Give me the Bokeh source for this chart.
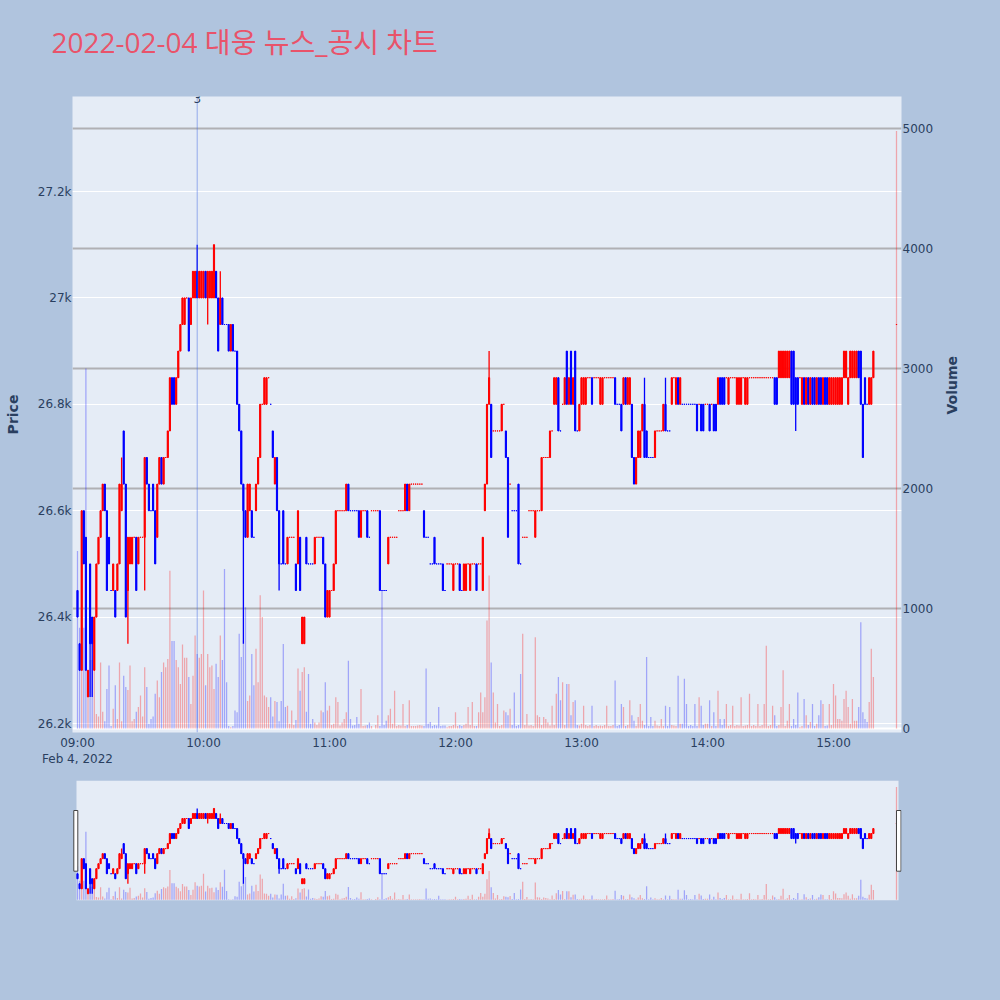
import math
import pandas as pd
from bokeh.plotting import figure
from bokeh.models import (Range1d, LinearAxis, FixedTicker, DatetimeTickFormatter, Grid,
                          ColumnDataSource, Label, Span, BoxAnnotation)
from bokeh.layouts import column
from bokeh.embed import file_html
from bokeh.resources import INLINE

# ---------------- data ----------------
title_text = "2022-02-04 대웅 뉴스_공시 차트"
trade_day = "2022-02-04"
session_start = "09:00"
session_minutes = 380          # 09:00 .. 15:19 continuous trading
closing_time = "15:30"         # closing auction print

opens = [
    26450, 26350, 26300, 26600, 26550, 26250, 26500, 26400, 26300, 26400,
    26500, 26550, 26600, 26650, 26600, 26550, 26450, 26450, 26450, 26450,
    26500, 26600, 26750, 26650, 26450, 26500, 26500, 26550, 26550, 26500,
    26550, 26550, 26550, 26700, 26650, 26600, 26650, 26600, 26550, 26650,
    26700, 26650, 26700, 26700, 26750, 26850, 26850, 26800, 26850, 26900,
    26950, 26950, 27000, 27000, 26950, 27000, 27000, 27050, 27000, 27000,
    27000, 27050, 27000, 27000, 27000, 27000, 27050, 27000, 26950, 27000,
    26950, 26950, 26950, 26900, 26950, 26900, 26900, 26800, 26750, 26650,
    26600, 26550, 26600, 26600, 26550, 26600, 26650, 26700, 26800, 26800,
    26800, 26850, 26800, 26750, 26650, 26700, 26600, 26500, 26600, 26500,
    26500, 26550, 26550, 26550, 26500, 26500, 26550, 26350, 26350, 26550,
    26500, 26500, 26500, 26500, 26550, 26550, 26550, 26550, 26500, 26400,
    26400, 26450, 26450, 26500, 26600, 26600, 26600, 26600, 26600, 26650,
    26600, 26600, 26600, 26600, 26600, 26550, 26600, 26600, 26600, 26550,
    26600, 26600, 26600, 26600, 26600, 26450, 26450, 26450, 26500, 26550,
    26550, 26550, 26550, 26600, 26600, 26600, 26600, 26650, 26600, 26650,
    26650, 26650, 26650, 26650, 26650, 26600, 26550, 26550, 26500, 26500,
    26550, 26500, 26500, 26500, 26500, 26450, 26500, 26500, 26500, 26450,
    26500, 26500, 26500, 26450, 26450, 26450, 26500, 26450, 26500, 26500,
    26500, 26500, 26500, 26450, 26600, 26650, 26800, 26800, 26750, 26750,
    26750, 26750, 26750, 26800, 26750, 26700, 26650, 26600, 26600, 26600,
    26650, 26500, 26550, 26550, 26550, 26600, 26600, 26600, 26550, 26600,
    26600, 26600, 26700, 26700, 26700, 26700, 26750, 26800, 26800, 26850,
    26750, 26800, 26800, 26900, 26800, 26900, 26800, 26900, 26750, 26750,
    26800, 26800, 26800, 26850, 26850, 26850, 26850, 26850, 26850, 26800,
    26800, 26850, 26850, 26850, 26850, 26850, 26850, 26800, 26800, 26800,
    26800, 26850, 26800, 26800, 26800, 26700, 26650, 26700, 26700, 26750,
    26800, 26750, 26700, 26700, 26700, 26700, 26750, 26750, 26750, 26750,
    26800, 26750, 26750, 26800, 26850, 26800, 26850, 26800, 26800, 26800,
    26800, 26800, 26800, 26800, 26800, 26800, 26800, 26800, 26800, 26800,
    26800, 26800, 26800, 26800, 26800, 26800, 26850, 26850, 26850, 26850,
    26800, 26850, 26850, 26850, 26800, 26800, 26800, 26850, 26800, 26800,
    26850, 26850, 26850, 26850, 26850, 26850, 26850, 26850, 26850, 26850,
    26850, 26850, 26850, 26850, 26850, 26850, 26850, 26850, 26850, 26850,
    26900, 26900, 26850, 26850, 26850, 26800, 26850, 26800, 26850, 26800,
    26850, 26850, 26800, 26850, 26850, 26800, 26850, 26850, 26800, 26800,
    26800, 26800, 26800, 26800, 26800, 26850, 26850, 26800, 26850, 26850,
    26850, 26850, 26900, 26900, 26800, 26850, 26800, 26800, 26800, 26850,
    26950,
]

closes = [
    26400, 26300, 26600, 26500, 26300, 26300, 26350, 26350, 26400, 26500,
    26550, 26600, 26650, 26600, 26450, 26500, 26450, 26500, 26400, 26500,
    26650, 26650, 26650, 26400, 26550, 26550, 26550, 26550, 26450, 26550,
    26550, 26550, 26700, 26650, 26600, 26600, 26600, 26500, 26650, 26700,
    26650, 26700, 26700, 26750, 26850, 26800, 26800, 26850, 26900, 26950,
    27000, 27000, 27000, 26900, 27000, 27050, 27050, 27000, 27050, 27050,
    27050, 27000, 27050, 27050, 27050, 27100, 27000, 26900, 27000, 26950,
    26950, 26950, 26900, 26950, 26900, 26900, 26800, 26750, 26650, 26600,
    26550, 26650, 26650, 26550, 26550, 26650, 26700, 26800, 26800, 26850,
    26850, 26850, 26800, 26700, 26700, 26600, 26500, 26500, 26500, 26500,
    26550, 26550, 26550, 26550, 26450, 26600, 26450, 26400, 26400, 26500,
    26500, 26500, 26500, 26550, 26550, 26550, 26550, 26500, 26400, 26450,
    26450, 26450, 26500, 26600, 26600, 26600, 26600, 26600, 26650, 26600,
    26600, 26600, 26600, 26600, 26550, 26600, 26600, 26600, 26550, 26550,
    26600, 26600, 26600, 26600, 26450, 26450, 26450, 26450, 26550, 26550,
    26550, 26550, 26550, 26600, 26600, 26600, 26650, 26600, 26650, 26650,
    26650, 26650, 26650, 26650, 26650, 26550, 26550, 26550, 26500, 26500,
    26500, 26500, 26500, 26500, 26450, 26450, 26500, 26500, 26500, 26500,
    26500, 26500, 26450, 26450, 26500, 26500, 26500, 26500, 26500, 26500,
    26450, 26500, 26500, 26550, 26650, 26800, 26850, 26700, 26750, 26750,
    26750, 26750, 26800, 26800, 26700, 26550, 26650, 26600, 26600, 26600,
    26500, 26500, 26550, 26550, 26550, 26600, 26600, 26600, 26600, 26600,
    26600, 26700, 26700, 26700, 26700, 26750, 26750, 26850, 26850, 26750,
    26750, 26800, 26850, 26800, 26850, 26800, 26850, 26750, 26750, 26800,
    26850, 26850, 26850, 26850, 26850, 26800, 26850, 26850, 26850, 26850,
    26850, 26850, 26850, 26850, 26850, 26850, 26800, 26800, 26800, 26750,
    26850, 26800, 26850, 26850, 26700, 26650, 26700, 26750, 26750, 26800,
    26700, 26700, 26700, 26700, 26700, 26750, 26750, 26750, 26750, 26800,
    26750, 26750, 26750, 26850, 26850, 26850, 26800, 26850, 26800, 26800,
    26800, 26800, 26800, 26800, 26800, 26750, 26800, 26750, 26750, 26800,
    26800, 26750, 26800, 26750, 26750, 26850, 26800, 26800, 26800, 26850,
    26850, 26850, 26850, 26850, 26850, 26850, 26850, 26850, 26850, 26850,
    26850, 26850, 26850, 26850, 26850, 26850, 26850, 26850, 26850, 26850,
    26850, 26850, 26800, 26800, 26900, 26900, 26900, 26900, 26900, 26900,
    26800, 26800, 26800, 26800, 26850, 26850, 26800, 26850, 26800, 26850,
    26800, 26800, 26850, 26800, 26800, 26850, 26800, 26800, 26850, 26850,
    26850, 26850, 26850, 26850, 26850, 26900, 26900, 26850, 26900, 26900,
    26900, 26900, 26850, 26800, 26700, 26800, 26800, 26850, 26850, 26900,
    26950,
]

# extra wick extremes (minute index -> price)
high_wicks = {21: 26700, 57: 27100, 68: 27050, 196: 26900, 270: 26850, 280: 26850}
low_wicks = {6: 26250, 7: 26250, 24: 26350, 32: 26450, 62: 26950,
             79: 26350, 96: 26450, 342: 26750}

volumes = [
    1480, 840, 680, 840, 3000, 340, 570, 570, 500, 120,
    100, 550, 140, 60, 330, 525, 20, 165, 360, 80,
    550, 60, 440, 345, 320, 525, 60, 80, 140, 180,
    275, 100, 510, 345, 40, 80, 100, 290, 400, 260,
    470, 550, 510, 580, 1315, 730, 730, 570, 510, 370,
    700, 590, 590, 430, 205, 440, 775, 620, 590, 620,
    1150, 360, 620, 510, 525, 330, 540, 430, 775, 570,
    1330, 385, 20, 10, 20, 150, 135, 790, 595, 735,
    1010, 230, 275, 620, 360, 665, 385, 1110, 930, 275,
    260, 180, 260, 100, 230, 220, 60, 230, 705, 180,
    190, 40, 150, 30, 70, 500, 315, 470, 510, 140,
    455, 40, 80, 50, 30, 50, 150, 135, 385, 150,
    190, 30, 40, 260, 220, 25, 50, 80, 135, 565,
    80, 25, 30, 95, 40, 330, 20, 25, 30, 50,
    20, 0, 30, 110, 20, 1150, 30, 65, 110, 165,
    40, 315, 20, 30, 25, 205, 20, 30, 235, 20,
    20, 20, 25, 30, 25, 20, 500, 40, 55, 20,
    30, 25, 180, 20, 25, 25, 10, 20, 20, 30,
    135, 20, 30, 20, 30, 40, 180, 30, 220, 20,
    20, 135, 300, 135, 260, 900, 1275, 550, 300, 50,
    205, 20, 30, 150, 135, 110, 165, 30, 300, 20,
    30, 455, 790, 30, 120, 25, 30, 20, 760, 110,
    95, 30, 95, 80, 50, 25, 190, 30, 290, 430,
    235, 385, 30, 370, 370, 110, 220, 235, 30, 25,
    40, 190, 30, 20, 30, 190, 20, 30, 20, 25,
    20, 30, 190, 20, 20, 30, 400, 20, 30, 205,
    180, 20, 30, 235, 110, 65, 20, 95, 205, 65,
    30, 595, 20, 95, 20, 65, 25, 20, 80, 20,
    190, 20, 180, 30, 25, 20, 440, 40, 40, 415,
    205, 20, 30, 20, 205, 20, 260, 190, 30, 40,
    40, 235, 20, 135, 20, 315, 80, 30, 80, 205,
    20, 30, 190, 20, 30, 25, 260, 20, 25, 30,
    290, 20, 30, 20, 205, 20, 30, 205, 690, 20,
    30, 190, 110, 20, 30, 180, 485, 20, 65, 205,
    20, 80, 30, 300, 10, 20, 245, 110, 30, 55,
    205, 20, 40, 110, 235, 205, 20, 25, 205, 30,
    370, 275, 80, 80, 65, 245, 315, 180, 40, 245,
    65, 65, 180, 885, 135, 80, 55, 220, 665, 430,
    4980,
]

news_time = "09:57"
news_label = "3"

price_ticks = [26200, 26400, 26600, 26800, 27000, 27200]
price_tick_labels = ["26.2k", "26.4k", "26.6k", "26.8k", "27k", "27.2k"]
volume_ticks = [0, 1000, 2000, 3000, 4000, 5000]
time_ticks = ["09:00", "10:00", "11:00", "12:00", "13:00", "14:00", "15:00"]

# ---------------- helpers ----------------
EPOCH = pd.Timestamp("1970-01-01")
MIN = 60000.0


def to_ms(ts):
    return (pd.Timestamp(ts) - EPOCH) / pd.Timedelta(milliseconds=1)


times = list(pd.date_range(f"{trade_day} {session_start}", periods=session_minutes, freq="min"))
times.append(pd.Timestamp(f"{trade_day} {closing_time}"))
t_ms = [to_ms(t) for t in times]
t0 = to_ms(f"{trade_day} {session_start}")

INC = "#ff0000"
DEC = "#0000ff"

# plotly-style direction (flat candles follow previous close / previous direction)
inc = []
prev_c, prev_dir = None, True
for o, c in zip(opens, closes):
    if c > o:
        d = True
    elif c < o:
        d = False
    elif prev_c is not None and c != prev_c:
        d = c > prev_c
    else:
        d = prev_dir
    inc.append(d)
    prev_c, prev_dir = c, d

tops = [max(o, c) for o, c in zip(opens, closes)]
bots = [min(o, c) for o, c in zip(opens, closes)]
highs = [high_wicks.get(i, tops[i]) for i in range(len(tops))]
lows = [low_wicks.get(i, bots[i]) for i in range(len(bots))]
colors = [INC if d else DEC for d in inc]

src = ColumnDataSource(dict(t=t_ms, top=tops, bottom=bots, high=highs, low=lows,
                            color=colors, vol=volumes))

FONT = "DejaVu Sans"
TXT = "#2a3f5f"
PAPER = "#b0c4de"
PLOTBG = "#e5ecf6"

x_range = Range1d(t0 - 2.38 * MIN, t0 + 392.38 * MIN)
price_range = Range1d(26183.1, 27378.6)
vol_range = Range1d(-33.3, 5266.7)

# ---------------- title strip ----------------
tf = figure(width=1000, height=88, title=None, x_range=Range1d(0, 1000), y_range=Range1d(0, 88),
            x_axis_location=None, y_axis_location=None,
            output_backend="svg", toolbar_location=None,
            min_border_left=0, min_border_right=0, min_border_top=0, min_border_bottom=0,
            background_fill_color=PAPER, border_fill_color=PAPER, outline_line_color=None)
if "frame_align" in tf.properties():
    tf.frame_align = False
tf.grid.visible = False
tf.add_layout(Label(x=51, y=47, text=title_text, text_align="left", text_baseline="middle",
                    text_font="Open Sans, Noto Sans CJK KR", text_font_size="28px",
                    text_color="#e9536a"))

# ---------------- main chart ----------------
p = figure(width=1000, height=684, x_axis_type="datetime", title=None,
           x_range=x_range, y_range=price_range,
           output_backend="svg", toolbar_location=None,
           min_border_left=72, min_border_right=99, min_border_top=8, min_border_bottom=40,
           background_fill_color=PLOTBG, border_fill_color=PAPER, outline_line_color=None)
p.extra_y_ranges = {"vol": vol_range}

p.xgrid.visible = False
p.ygrid.grid_line_color = "white"
p.ygrid.grid_line_width = 1

p.add_layout(Grid(dimension=1, ticker=FixedTicker(ticks=volume_ticks[1:]), y_range_name="vol",
                  grid_line_color="#b0b0b4", grid_line_width=2))
p.add_layout(Grid(dimension=1, ticker=FixedTicker(ticks=volume_ticks[:1]), y_range_name="vol",
                  grid_line_color="white", grid_line_width=2))

p.vbar(x="t", top="vol", bottom=0, width=0.6 * MIN, fill_color="color", fill_alpha=0.3,
       line_color=None, source=src, y_range_name="vol")
p.segment(x0="t", y0="high", x1="t", y1="low", line_color="color", line_width=1.3, source=src)
p.vbar(x="t", top="top", bottom="bottom", width=0.55 * MIN, fill_color="color",
       line_color="color", line_width=1, source=src)

# news marker
news_ms = to_ms(f"{trade_day} {news_time}")
p.add_layout(Span(location=news_ms, dimension="height", line_color="royalblue",
                  line_alpha=0.5, line_width=1))
p.add_layout(Label(x=news_ms, y=634, y_units="screen", text=news_label, text_align="center",
                   text_baseline="middle", text_font=FONT, text_font_size="12px",
                   text_color=TXT))


def style_axis(ax):
    ax.axis_line_color = None
    ax.major_tick_line_color = None
    ax.minor_tick_line_color = None
    ax.major_tick_out = 0
    ax.major_tick_in = 0
    ax.major_label_text_font = FONT
    ax.major_label_text_font_size = "12px"
    ax.major_label_text_color = TXT
    ax.axis_label_text_font = FONT
    ax.axis_label_text_font_size = "14px"
    ax.axis_label_text_font_style = "bold"
    ax.axis_label_text_color = TXT


# x axis (time, with the date as context under the first tick)
xa = p.xaxis[0]
xa.ticker = FixedTicker(ticks=[to_ms(f"{trade_day} {t}") for t in time_ticks])
fmt = "%H:%M"
dfmt = "%b %-d, %Y"
ctx = DatetimeTickFormatter(microseconds=dfmt, milliseconds=dfmt, seconds=dfmt, minsec=dfmt,
                            minutes=dfmt, hourmin=dfmt, hours=dfmt, days=dfmt,
                            months=dfmt, years=dfmt)
xa.formatter = DatetimeTickFormatter(microseconds=fmt, milliseconds=fmt, seconds=fmt, minsec=fmt,
                                     minutes=fmt, hourmin=fmt, hours=fmt, days=fmt,
                                     months=fmt, years=fmt,
                                     context=ctx, context_which="start",
                                     context_location="below")
style_axis(xa)
xa.major_label_standoff = 3

# left price axis
ya = p.yaxis[0]
ya.ticker = FixedTicker(ticks=price_ticks)
ya.major_label_overrides = {t: l for t, l in zip(price_ticks, price_tick_labels)}
style_axis(ya)
ya.major_label_standoff = 1
ya.axis_label = "Price"
ya.axis_label_standoff = 14

# right volume axis
va = LinearAxis(y_range_name="vol", ticker=FixedTicker(ticks=volume_ticks))
style_axis(va)
va.major_label_standoff = 1
va.axis_label = "Volume"
va.axis_label_standoff = 16
va.axis_label_orientation = math.pi / 2
p.add_layout(va, "right")

# ---------------- range slider ----------------
s = figure(width=1000, height=220, x_axis_type="datetime", title=None,
           x_range=x_range, y_range=price_range,
           x_axis_location=None, y_axis_location=None,
           output_backend="svg", toolbar_location=None,
           min_border_left=72, min_border_right=99, min_border_top=8, min_border_bottom=92,
           background_fill_color=PAPER, border_fill_color=PAPER, outline_line_color=None)
s.extra_y_ranges = {"vol": vol_range}
s.grid.visible = False
# slider track (spans the full data extent of the session)
s.add_layout(BoxAnnotation(left=4, right=826, bottom=0, top=120,
                           left_units="screen", right_units="screen",
                           top_units="screen", bottom_units="screen",
                           fill_color=PLOTBG, fill_alpha=1.0, line_color=None,
                           level="underlay"))
s.vbar(x="t", top="vol", bottom=0, width=0.6 * MIN, fill_color="color", fill_alpha=0.3,
       line_color=None, source=src, y_range_name="vol")
s.segment(x0="t", y0="high", x1="t", y1="low", line_color="color", line_width=1.3, source=src)
s.vbar(x="t", top="top", bottom="bottom", width=0.55 * MIN, fill_color="color",
       line_color="color", line_width=1, source=src)

for lft, rgt in [(1.3, 5.3), (824.0, 828.5)]:
    s.add_layout(BoxAnnotation(left=lft, right=rgt, bottom=29.3, top=90.0,
                               left_units="screen", right_units="screen",
                               top_units="screen", bottom_units="screen",
                               fill_color="white", fill_alpha=1.0, line_color="#444444",
                               line_alpha=1.0, line_width=1, level="overlay"))

layout = column(tf, p, s)
html = file_html(layout, INLINE, title="chart")
html = html.replace("</head>",
                    "<style>html, body {margin:0; padding:0; background:#b0c4de;}</style></head>", 1)
open("out.html", "w").write(html)
